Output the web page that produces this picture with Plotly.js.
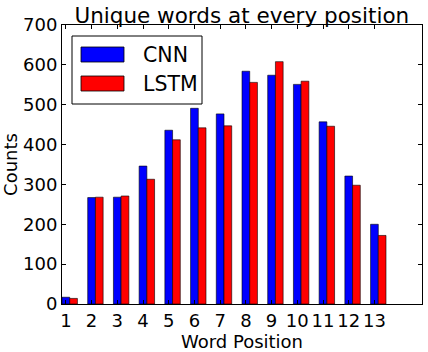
<!DOCTYPE html>
<html>
<head>
<meta charset="utf-8">
<script src="https://cdn.plot.ly/plotly-3.0.1.min.js"></script>
<style>html,body{margin:0;padding:0;background:#fff;}#chart{width:428px;height:352px;}</style>
</head>
<body>
<div id="chart"></div>
<script>
const positions = [1, 2, 3, 4, 5, 6, 7, 8, 9, 10, 11, 12, 13];
const tickLabels = ["1","2","3","4","5","6","7","8","9","10","11","12","13"];
const cnnCounts = [17, 267, 268, 346, 436, 491, 477, 584, 574, 551, 457, 321, 200];
const lstmCounts = [14, 268, 271, 313, 412, 442, 447, 556, 608, 559, 446, 298, 172];

const W = 0.3;
const xIdx = positions.map(p => p - 1);
const font = "DejaVu Sans, sans-serif";

const traces = [
  {type: "bar", name: "CNN", x: xIdx, y: cnnCounts, width: W, offset: 0,
   marker: {color: "#0000ff", line: {color: "#000", width: 0.6}}, showlegend: false},
  {type: "bar", name: "LSTM", x: xIdx, y: lstmCounts, width: W, offset: W,
   marker: {color: "#ff0000", line: {color: "#000", width: 0.6}}, showlegend: false}
];

const layout = {
  width: 428, height: 352,
  margin: {l: 62, r: 6, t: 25, b: 48},
  paper_bgcolor: "#fff", plot_bgcolor: "#fff",
  barmode: "overlay",
  font: {family: font, color: "#000", size: 18},
  title: {text: "Unique words at every position", font: {size: 21.5, family: font, color: "#000"},
          x: 0.565, xanchor: "center", y: 0.955, yanchor: "middle"},
  xaxis: {range: [0, 14], tickvals: xIdx.map(v => v + W / 2), ticktext: tickLabels,
          ticks: "inside", ticklen: 4, tickcolor: "#000", mirror: "allticks",
          showline: true, linecolor: "#000", linewidth: 1, showgrid: false, zeroline: false,
          tickfont: {size: 18}, title: {text: "Word Position", font: {size: 18}, standoff: 0}},
  yaxis: {range: [0, 700], dtick: 100, tick0: 0,
          ticks: "inside", ticklen: 4, tickcolor: "#000", mirror: "allticks",
          showline: true, linecolor: "#000", linewidth: 1, showgrid: false, zeroline: false,
          tickfont: {size: 18}, title: {text: "Counts", font: {size: 18}, standoff: 4}},
  shapes: [
    {type: "rect", xref: "paper", yref: "paper", x0: 10/360, x1: 140/360, y0: 1 - 79/279, y1: 1 - 11/279,
     line: {color: "#000", width: 1}, fillcolor: "#fff"},
    {type: "rect", xref: "paper", yref: "paper", x0: 19/360, x1: 62/360, y0: 1 - 37/279, y1: 1 - 22/279,
     line: {color: "#000", width: 0.8}, fillcolor: "#0000ff"},
    {type: "rect", xref: "paper", yref: "paper", x0: 19/360, x1: 62/360, y0: 1 - 66/279, y1: 1 - 51/279,
     line: {color: "#000", width: 0.8}, fillcolor: "#ff0000"}
  ],
  annotations: [
    {xref: "paper", yref: "paper", x: 79/360, y: 1 - 29.5/279, text: "CNN", showarrow: false,
     xanchor: "left", yanchor: "middle", font: {size: 20.5}},
    {xref: "paper", yref: "paper", x: 79/360, y: 1 - 58.5/279, text: "LSTM", showarrow: false,
     xanchor: "left", yanchor: "middle", font: {size: 20.5}}
  ]
};

Plotly.newPlot("chart", traces, layout, {displayModeBar: false, staticPlot: true});
</script>
</body>
</html>
